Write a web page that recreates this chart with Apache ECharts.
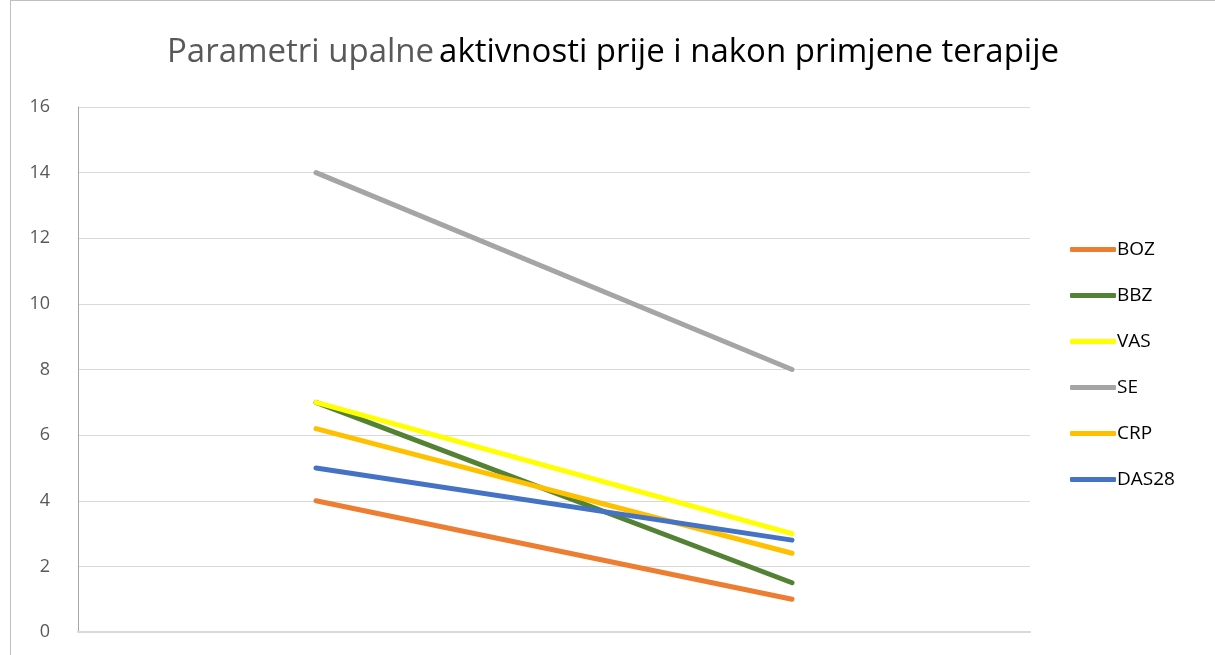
<!DOCTYPE html>
<html>
<head>
<meta charset="utf-8">
<script src="https://cdn.jsdelivr.net/npm/echarts@6/dist/echarts.min.js"></script>
<style>
  html, body { margin: 0; padding: 0; background: #fff; }
  #chart { position: absolute; left: 10px; top: 0; width: 1205px; height: 655px;
           border-left: 1px solid #bfbfbf; border-top: 1px solid #bfbfbf; box-sizing: border-box; }
</style>
</head>
<body>
<div id="chart"></div>
<script>
  const categories = ["Prije terapije", "Nakon terapije"];
  const seriesNames = ["BOZ", "BBZ", "VAS", "SE", "CRP", "DAS28"];
  const boz = [4, 1];
  const bbz = [7, 1.5];
  const vas = [7, 3];
  const se = [14, 8];
  const crp = [6.2, 2.4];
  const das28 = [5, 2.8];
  const colors = ["#ED7D31", "#548235", "#FFFF00", "#A5A5A5", "#FFC000", "#4472C4"];
  const allValues = [boz, bbz, vas, se, crp, das28];

  const chart = echarts.init(document.getElementById("chart"));

  const option = {
    animation: false,
    color: colors,
    title: {
      text: "{g|Parametri upalne} {b|aktivnosti prije i nakon primjene terapije}",
      left: "center",
      top: 30,
      textStyle: {
        fontWeight: "normal",
        rich: {
          g: { fontFamily: "Open Sans", fontSize: 33, fontWeight: "normal", color: "#595959" },
          b: { fontFamily: "Open Sans", fontSize: 33, fontWeight: "normal", color: "#000000" },
        },
      },
    },
    legend: {
      orient: "vertical",
      left: 1054,
      top: 234,
      itemWidth: 46,
      itemHeight: 5,
      itemGap: 27,
      icon: "roundRect",
      textStyle: { fontFamily: "Open Sans", fontSize: 19, color: "#000", padding: [0, 0, 0, -4] },
      data: seriesNames,
    },
    grid: { left: 67, right: 185, top: 106, bottom: 23 },
    xAxis: {
      type: "category",
      data: categories,
      boundaryGap: true,
      axisLine: { lineStyle: { color: "#d9d9d9", width: 2 } },
      axisTick: { show: false },
      axisLabel: { show: false },
    },
    yAxis: {
      type: "value",
      min: 0,
      max: 16,
      interval: 2,
      axisLine: { show: true, lineStyle: { color: "#a6a6a6", width: 1 } },
      axisTick: { show: false },
      axisLabel: { fontFamily: "Open Sans", fontSize: 18, color: "#595959", margin: 28 },
      splitLine: { lineStyle: { color: "#d9d9d9", width: 1 } },
    },
    series: seriesNames.map((name, i) => ({
      name: name,
      type: "line",
      data: allValues[i],
      symbol: "none",
      lineStyle: { width: 5, cap: "round", color: colors[i] },
      itemStyle: { color: colors[i] },
    })),
  };

  chart.setOption(option);
</script>
</body>
</html>
